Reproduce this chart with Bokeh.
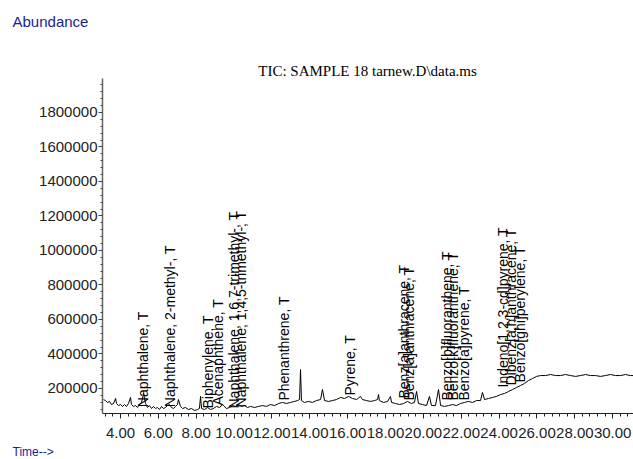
import math
from bokeh.plotting import figure
from bokeh.models import ColumnDataSource, FixedTicker, NumeralTickFormatter, Label, Range1d
from bokeh.embed import file_html
from bokeh.resources import INLINE
from bokeh.core.properties import value

# ---- data ----
time_min = [3.10, 3.21, 3.31, 3.42, 3.52, 3.63, 3.74, 3.79, 3.89, 4.00, 4.11, 4.21, 4.32, 4.42, 4.53,
            4.58, 4.69, 4.79, 4.90, 5.00, 5.11, 5.22, 5.32, 5.43, 5.53, 5.64, 5.74, 5.85, 5.95, 6.06,
            6.17, 6.27, 6.38, 6.48, 6.59, 6.69, 6.80, 6.91, 7.01, 7.06, 7.17, 7.28, 7.43, 7.59, 7.75,
            7.91, 8.07, 8.17, 8.23, 8.28, 8.44, 8.60, 8.75, 8.91, 9.07, 9.23, 9.39, 9.44, 9.60, 9.76,
            9.92, 10.08, 10.23, 10.39, 10.55, 10.71, 10.87, 11.08, 11.29, 11.50, 11.71, 11.92, 12.14,
            12.35, 12.56, 12.77, 12.98, 13.19, 13.35, 13.46, 13.51, 13.56, 13.72, 13.93, 14.14, 14.35,
            14.57, 14.67, 14.78, 14.99, 15.20, 15.41, 15.62, 15.83, 16.05, 16.26, 16.47, 16.68, 16.78,
            17.00, 17.21, 17.42, 17.58, 17.63, 17.68, 17.89, 18.11, 18.26, 18.32, 18.53, 18.74, 18.95,
            19.16, 19.37, 19.53, 19.64, 19.74, 19.95, 20.17, 20.32, 20.43, 20.64, 20.80, 20.91, 21.12,
            21.33, 21.54, 21.75, 21.96, 22.17, 22.38, 22.60, 22.81, 23.02, 23.12, 23.23, 23.44, 23.65,
            23.86, 24.08, 24.29, 24.50, 24.71, 24.92, 25.13, 25.34, 25.55, 25.77, 25.98, 26.19, 26.45,
            26.72, 26.98, 27.25, 27.51, 27.77, 28.04, 28.30, 28.57, 28.83, 29.09, 29.36, 29.62, 29.89,
            30.15, 30.42, 30.68, 30.94, 31.10]
abundance = [136000, 130000, 119000, 125000, 107000, 113000, 142000, 113000, 101000, 107000, 96000,
             107000, 96000, 113000, 148000, 107000, 96000, 101000, 90000, 107000, 119000, 171000,
             113000, 90000, 101000, 84000, 96000, 84000, 90000, 78000, 96000, 84000, 90000, 101000,
             107000, 90000, 84000, 96000, 107000, 136000, 96000, 84000, 90000, 78000, 84000, 72000,
             78000, 84000, 154000, 84000, 78000, 90000, 78000, 84000, 96000, 90000, 107000, 101000,
             84000, 90000, 101000, 96000, 107000, 96000, 101000, 90000, 96000, 90000, 96000, 101000,
             96000, 107000, 101000, 113000, 119000, 113000, 119000, 125000, 130000, 136000, 310000,
             130000, 119000, 125000, 119000, 130000, 136000, 194000, 130000, 125000, 130000, 136000,
             148000, 142000, 154000, 142000, 136000, 154000, 136000, 130000, 125000, 130000, 136000,
             165000, 130000, 119000, 125000, 154000, 119000, 113000, 107000, 113000, 125000, 113000,
             119000, 183000, 113000, 107000, 101000, 154000, 101000, 101000, 194000, 101000, 96000,
             101000, 107000, 101000, 113000, 119000, 125000, 119000, 130000, 130000, 177000, 136000,
             142000, 148000, 154000, 165000, 171000, 183000, 194000, 206000, 217000, 229000, 246000,
             258000, 270000, 275000, 275000, 281000, 275000, 275000, 281000, 275000, 270000, 275000,
             281000, 275000, 275000, 270000, 275000, 281000, 275000, 275000, 281000, 275000, 275000]

peak_names = ["Naphthalene, T", "Naphthalene, 2-methyl-, T", "Biphenylene, T", "Acenaphthene, T",
              "Naphthalene, 1,6,7-trimethyl-, T", "Naphthalene, 1,4,5-trimethyl-, T",
              "Phenanthrene, T", "Pyrene, T", "Benz[a]anthracene, T", "Benz[a]anthracene, T",
              "Benzo[b]fluoranthene, T", "Benzo[k]fluoranthene, T", "Benzo[a]pyrene, T",
              "Indeno[1,2,3-cd]pyrene, T", "Dibenz[a,h]anthracene, T", "Benzo[ghi]perylene, T"]
peak_time = [5.18, 6.59, 8.61, 9.16, 10.02, 10.38, 12.66, 16.11, 18.98, 19.23,
             21.27, 21.59, 22.17, 24.20, 24.64, 25.08]
peak_abund = [92000, 92000, 84000, 101000, 84000, 90000, 130000, 159000, 142000, 130000,
              130000, 130000, 130000, 206000, 217000, 235000]

x_ticks = [4, 6, 8, 10, 12, 14, 16, 18, 20, 22, 24, 26, 28, 30]
y_ticks = [200000, 400000, 600000, 800000, 1000000, 1200000, 1400000, 1600000, 1800000]

title_text = "TIC: SAMPLE 18 tarnew.D\\data.ms"

# axis extents (data units)
t_start, t_end = 3.049, 31.1
a_start, a_end = 55000, 1997000

# ---- figure: frame covers the whole canvas, axes pinned with fixed_location ----
p = figure(width=633, height=459, output_backend="svg", toolbar_location=None,
           x_range=Range1d(-2.339, 31.10), y_range=Range1d(-211600, 2449200),
           min_border_left=0, min_border_right=0, min_border_top=0, min_border_bottom=0)
p.xgrid.visible = False
p.ygrid.visible = False
p.outline_line_color = None
p.background_fill_color = "white"
p.border_fill_color = "white"

p.line(time_min, abundance, line_color="black", line_width=1)

src = ColumnDataSource(dict(x=peak_time, y=peak_abund, t=peak_names))
p.text(x="x", y="y", text="t", source=src, angle=math.pi / 2,
       text_align="left", text_baseline="middle",
       text_font=value("Liberation Sans"), text_font_size="14px", text_color="black")

# axes
xa = p.xaxis[0]
xa.fixed_location = a_start
xa.bounds = (t_start, t_end)
xa.ticker = FixedTicker(ticks=x_ticks, minor_ticks=[round(3.2 + 0.4 * i, 2) for i in range(70)])
xa.formatter = NumeralTickFormatter(format="0.00")
xa.major_label_text_font = "Liberation Sans"
xa.major_label_text_font_size = "15px"
xa.major_label_text_color = "#222222"
xa.major_tick_out = 5
xa.major_tick_in = 0
xa.minor_tick_out = 3
xa.minor_tick_in = 0
xa.major_label_standoff = 9
xa.axis_line_color = "#222222"
xa.major_tick_line_color = "#222222"
xa.minor_tick_line_color = "#222222"

ya = p.yaxis[0]
ya.fixed_location = t_start
ya.bounds = (a_start, a_end)
ya.ticker = FixedTicker(ticks=y_ticks, minor_ticks=[40000 * i for i in range(2, 50)])
ya.formatter = NumeralTickFormatter(format="0")
ya.major_label_text_font = "Liberation Sans"
ya.major_label_text_font_size = "15px"
ya.major_label_text_color = "#222222"
ya.major_tick_out = 4
ya.major_tick_in = 0
ya.minor_tick_out = 2
ya.minor_tick_in = 0
ya.major_label_standoff = 1
ya.axis_line_color = "#666666"
ya.axis_line_width = 1.5
ya.major_tick_line_color = "#444444"
ya.minor_tick_line_color = "#444444"

# texts
p.add_layout(Label(x=17.05, y=2037700, text=title_text,
                   text_font="Liberation Serif", text_font_size="15px", text_color="black",
                   text_align="center", text_baseline="middle"))
p.add_layout(Label(x=-1.705, y=2327500, text="Abundance",
                   text_font="Liberation Sans", text_font_size="15px", text_color="#1c1c9c",
                   text_align="left", text_baseline="middle"))
p.add_layout(Label(x=-1.705, y=-171000, text="Time-->",
                   text_font="Liberation Sans", text_font_size="12px", text_color="#1c1c9c",
                   text_align="left", text_baseline="middle"))

open("out.html", "w").write(file_html(p, INLINE))
